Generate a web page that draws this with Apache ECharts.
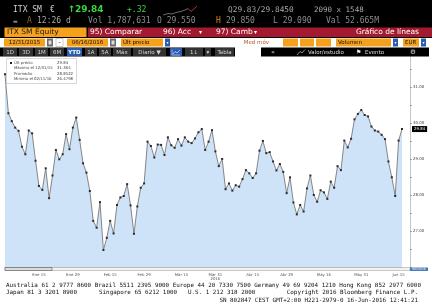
<!DOCTYPE html>
<html><head><meta charset="utf-8">
<script src="https://cdn.jsdelivr.net/npm/echarts@6/dist/echarts.min.js"></script>
<style>html,body{margin:0;padding:0;background:#fff}#c{width:432px;height:306px}</style>
</head><body><div id="c"></div>
<script>
// ---- data ----
const dates = [
"12/31/15",
"01/04/16","01/05/16","01/06/16","01/07/16","01/08/16",
"01/11/16","01/12/16","01/13/16","01/14/16","01/15/16",
"01/18/16","01/19/16","01/20/16","01/21/16","01/22/16",
"01/25/16","01/26/16","01/27/16","01/28/16","01/29/16",
"02/01/16","02/02/16","02/03/16","02/04/16","02/05/16",
"02/08/16","02/09/16","02/10/16","02/11/16","02/12/16",
"02/15/16","02/16/16","02/17/16","02/18/16","02/19/16",
"02/22/16","02/23/16","02/24/16","02/25/16","02/26/16",
"02/29/16","03/01/16","03/02/16","03/03/16","03/04/16",
"03/07/16","03/08/16","03/09/16","03/10/16","03/11/16",
"03/14/16","03/15/16","03/16/16","03/17/16","03/18/16",
"03/21/16","03/22/16","03/23/16","03/24/16","03/29/16","03/30/16","03/31/16",
"04/01/16","04/04/16","04/05/16","04/06/16","04/07/16","04/08/16",
"04/11/16","04/12/16","04/13/16","04/14/16","04/15/16",
"04/18/16","04/19/16","04/20/16","04/21/16","04/22/16",
"04/25/16","04/26/16","04/27/16","04/28/16","04/29/16",
"05/02/16","05/03/16","05/04/16","05/05/16","05/06/16",
"05/09/16","05/10/16","05/11/16","05/12/16","05/13/16",
"05/16/16","05/17/16","05/18/16","05/19/16","05/20/16",
"05/23/16","05/24/16","05/25/16","05/26/16","05/27/16",
"05/30/16","05/31/16","06/01/16","06/02/16","06/03/16",
"06/06/16","06/07/16","06/08/16","06/09/16","06/10/16",
"06/13/16","06/14/16","06/15/16","06/16/16"
];
const prices = [
31.364,30.28,30.06,29.88,29.79,29.35,29.14,29.80,29.72,28.96,
28.26,28.15,28.75,27.92,28.55,29.26,29.00,29.14,29.70,29.28,
29.88,30.16,29.54,28.89,28.63,28.12,27.29,27.10,27.81,26.4798,
26.82,27.29,26.94,27.73,27.94,27.98,28.31,27.72,26.93,27.69,
28.21,28.33,29.49,29.37,29.05,29.41,29.40,29.12,29.61,29.39,
29.32,29.56,29.38,29.61,29.49,29.45,29.58,29.75,29.84,29.26,
29.49,29.81,29.22,28.81,29.01,28.17,28.33,28.13,28.28,28.24,
28.45,28.70,28.61,28.48,28.61,29.24,29.51,29.17,29.20,28.94,
28.69,28.87,28.65,28.06,28.50,27.80,27.47,27.73,27.55,28.19,
28.55,28.01,27.82,28.14,28.08,27.90,28.38,28.21,28.81,28.70,
29.52,29.33,29.57,30.11,30.26,30.37,30.23,30.19,29.91,29.80,
29.77,29.68,29.56,28.94,28.50,27.98,29.52,29.84
];
const tickLabels = {
"01/15/16":"Ene 15","01/29/16":"Ene 29","02/15/16":"Feb 15","02/29/16":"Feb 29",
"03/15/16":"Mar 15","03/31/16":"Mar 31","04/15/16":"Abr 15","04/29/16":"Abr 29",
"05/16/16":"May 16","05/31/16":"May 31","06/15/16":"Jun 15"
};
const yearLabels = {"03/31/16":"2016"};
const legendRows = [
["Últ precio","29.84"],
["Máximo el 12/31/15","31.364"],
["Promedio","28.8522"],
["Mínimo el 02/11/16","26.4798"]
];
const yMin = 26, yMax = 32, yStep = 0.5;

// ---- helpers for terminal chrome ----
const ORANGE = '#f6a11c', RED = '#a3192f', BLUE = '#2a5cb0', BTN = '#333';
function T(x, y, text, o) {
  o = o || {};
  const a = o.a || 'left';
  return {type:'text', x:x, y:y, z:101, silent:true,
    style:{text:text, fill:o.c || '#b8b8b8',
      font:(o.w || 'normal') + ' ' + (o.s || 8) + 'px ' + (o.f || 'DejaVu Sans Mono'),
      align:a, textAlign:a, verticalAlign:'middle', textVerticalAlign:'middle'}};
}
function R(x, y, w, h, fill, stroke) {
  return {type:'rect', z:100, silent:true, shape:{x:x, y:y, width:w, height:h},
    style:{fill:fill, stroke:stroke || null, lineWidth:stroke ? 0.5 : 0}};
}
function P(points, color, w) {
  return {type:'polyline', z:101, silent:true, shape:{points:points},
    style:{stroke:color, lineWidth:w || 0.8, fill:null}};
}
const S = 'DejaVu Sans';
const g = [];
// rows 1-3 black
g.push(R(0, 0, 432, 38, '#000'));
// row 1
g.push(T(13, 10, 'ITX SM', {c:'#d0d0d0', s:8}));
g.push(T(50, 10, '€', {c:'#d0d0d0', s:8}));
g.push(T(68, 10, '↑', {c:'#3fd23f', s:9, f:S, w:'bold'}));
g.push(T(75, 10, '29.84', {c:'#3fd23f', s:9, f:S, w:'bold'}));
g.push(T(127, 10, '+.32', {c:'#3fd23f', s:8}));
g.push(P([[163,15],[168,13.5],[172,14],[176,12.5],[181,11.5],[185,10],[188,8.5]], '#9a9a9a', 0.7));
g.push(P([[188,8.5],[191,11.5],[197,6]], '#e0443a', 0.8));
g.push(T(228, 10, 'Q29.83/29.8450', {c:'#a8a8a8', s:7.8}));
g.push(T(314, 10, '2090 x 1548', {c:'#a8a8a8', s:7.5}));
// row 2
g.push(T(13, 22, '▬', {c:'#888', s:5, f:S}));
g.push(T(27, 21, 'A', {c:'#8a6a2a', s:8}));
g.push(T(37, 21, '12:26 d', {c:'#a8a8a8', s:8}));
g.push(T(88, 21, 'Vol 1,787,631', {c:'#8c8c8c', s:8}));
g.push(T(157, 21, 'O 29.550', {c:'#8c8c8c', s:8}));
g.push(T(216, 21, 'H', {c:'#d7862a', s:8}));
g.push(T(226, 21, '29.850', {c:'#8c8c8c', s:8}));
g.push(T(273, 21, 'L 29.090', {c:'#8c8c8c', s:8}));
g.push(T(326, 21, 'Val 52.665M', {c:'#8c8c8c', s:8}));
// row 3
g.push(R(4.5, 27.5, 82, 9.5, ORANGE));
g.push(T(7, 32.3, 'ITX SM Equity', {c:'#1a1a1a', s:7.5, f:S}));
g.push(R(88, 27.5, 344, 9.5, RED));
g.push(T(90, 32.3, '95) Comparar', {c:'#fff', s:7.5, f:S}));
g.push(T(163, 32.3, '96) Acc', {c:'#fff', s:7.5, f:S}));
g.push(T(199, 32.3, '▾', {c:'#fff', s:6, f:S}));
g.push(T(216, 32.3, '97) Camb', {c:'#fff', s:7.5, f:S}));
g.push(T(254, 32.3, '▾', {c:'#fff', s:6, f:S}));
g.push(T(419, 32.3, 'Gráfico de líneas', {c:'#fff', s:7.5, f:S, a:'right'}));
// row 4
const r4y = 38.5, r4h = 8, r4c = 42.6;
g.push(R(4, r4y, 41, r4h, ORANGE));
g.push(T(24.5, r4c, '12/31/2015', {c:'#111', s:5.5, f:S, a:'center'}));
g.push(R(47, r4y, 6, r4h, '#6a6a6a'));
g.push(R(48.5, r4y + 2, 3, 4, '#ddd'));
g.push(R(56, r4y, 7, r4h, '#fff', '#999'));
g.push(T(59.5, r4c, '-', {c:'#111', s:6, f:S, a:'center'}));
g.push(R(67, r4y, 41, r4h, ORANGE));
g.push(T(87.5, r4c, '06/16/2016', {c:'#111', s:5.5, f:S, a:'center'}));
g.push(R(110, r4y, 6, r4h, '#6a6a6a'));
g.push(R(111.5, r4y + 2, 3, 4, '#ddd'));
g.push(R(121, r4y, 42, r4h, ORANGE));
g.push(T(123, r4c, 'Últ precio', {c:'#111', s:5.5, f:S}));
g.push(R(165, r4y, 5, r4h, BLUE));
g.push(T(167.5, r4c, '▾', {c:'#fff', s:4, f:S, a:'center'}));
g.push(T(269, r4c, 'Med móv', {c:'#b4561c', s:5.5, f:S, a:'right'}));
g.push(R(283, r4y, 15, r4h, ORANGE));
g.push(R(300, r4y, 14, r4h, ORANGE));
g.push(R(316, r4y, 15, r4h, ORANGE));
g.push(R(336, r4y, 55, r4h, ORANGE));
g.push(T(338, r4c, 'Volumen', {c:'#111', s:5.5, f:S}));
g.push(R(393, r4y, 5, r4h, BLUE));
g.push(T(395.5, r4c, '▾', {c:'#fff', s:4, f:S, a:'center'}));
g.push(R(403, r4y, 16, r4h, ORANGE));
g.push(T(405, r4c, 'EUR', {c:'#111', s:5.5, f:S}));
g.push(R(421, r4y, 5, r4h, BLUE));
g.push(T(423.5, r4c, '▾', {c:'#fff', s:4, f:S, a:'center'}));
// row 5
const r5y = 47.5, r5h = 9, r5c = 52.2;
g.push(R(0, r5y, 235, r5h, '#000'));
[[3,14,'1D'],[19,14,'3D'],[35,13,'1M'],[50,14,'6M'],[85,12,'1A'],[99,12,'5A'],[113,18,'Máx'],[133,33,'Diario ▼'],[185,18,'1↓'],[205,6,'▾'],[215,19,'Tabla']]
  .forEach(b => { g.push(R(b[0], r5y + 0.5, b[1], r5h - 1, BTN)); g.push(T(b[0] + b[1] / 2, r5c, b[2], {c:'#d8d8d8', s:5.5, f:S, a:'center'})); });
g.push(R(67, r5y + 0.5, 15, r5h - 1, BLUE));
g.push(T(74.5, r5c, 'YTD', {c:'#fff', s:5.5, f:S, a:'center', w:'bold'}));
g.push(R(170, r5y + 0.5, 12, r5h - 1, BLUE));
g.push(P([[172,55],[172,49.5]], '#fff', 0.5));
g.push(P([[172,55],[180,55]], '#fff', 0.5));
g.push(P([[173,54],[175,51.5],[177,53],[180,50]], '#fff', 0.6));
g.push(R(261, r5y, 168, r5h, '#000'));
g.push(T(273, r5c, '«', {c:'#ddd', s:6.5, f:S, a:'center'}));
g.push(P([[297,55],[300,51.5],[302,53],[305,49.5]], '#ddd', 0.6));
g.push(T(308, r5c, 'Valor/estudio', {c:'#ddd', s:5.5, f:S}));
g.push(T(356, r5c, '⚑', {c:'#fff', s:6, f:S}));
g.push(T(365, r5c, 'Evento', {c:'#ddd', s:5.5, f:S}));
g.push(T(413, r5c, '⚙', {c:'#ddd', s:6.5, f:S, a:'center'}));
// legend box
g.push(R(6.5, 58.5, 70, 25, '#fff', '#b0b0b0'));
legendRows.forEach((r, i) => {
  const y = 63 + i * 5.3;
  if (i === 0) g.push({type:'rect', z:101, silent:true, shape:{x:10, y:y - 1, width:2, height:2}, style:{fill:'#222'}});
  g.push(T(14, y, r[0], {c:'#444', s:3.9, f:S}));
  g.push(T(57, y, r[1], {c:'#444', s:3.9, f:S}));
});
// x-axis scroller bar and current-date box
g.push({type:'rect', z:3, silent:true, shape:{x:5, y:267.5, width:405, height:3}, style:{fill:'#f2f2f2', stroke:'#9a9a9a', lineWidth:0.5}});
g.push({type:'rect', z:3, silent:true, shape:{x:5, y:267.5, width:47, height:3}, style:{fill:'#dcdcdc', stroke:'#555', lineWidth:0.6}});
g.push(R(410, 267.5, 18, 3.5, '#4a78b8'));
g.push(T(419, 269.3, dates[dates.length - 1], {c:'#fff', s:3, f:S, a:'center'}));
// footer
const FF = 'DejaVu Sans Mono', FS = 5.9;
g.push(T(6, 285, 'Australia 61 2 9777 8600 Brazil 5511 2395 9000 Europe 44 20 7330 7500 Germany 49 69 9204 1210 Hong Kong 852 2977 6000', {c:'#111', s:FS, f:FF}));
g.push(T(6, 292.5, 'Japan 81 3 3201 8900', {c:'#111', s:FS, f:FF}));
g.push(T(99, 292.5, 'Singapore 65 6212 1000', {c:'#111', s:FS, f:FF}));
g.push(T(188, 292.5, 'U.S. 1 212 318 2000', {c:'#111', s:FS, f:FF}));
g.push(T(418, 292.5, 'Copyright 2016 Bloomberg Finance L.P.', {c:'#111', s:FS, f:FF, a:'right'}));
g.push(T(418, 300, 'SN 802847 CEST GMT+2:00 H221-2979-0 16-Jun-2016 12:41:21', {c:'#111', s:FS, f:FF, a:'right'}));

const isTick = (i, v) => tickLabels.hasOwnProperty(v);
const chart = echarts.init(document.getElementById('c'), null, {renderer:'canvas'});
chart.setOption({
  animation:false,
  backgroundColor:'#fff',
  grid:{left:5, right:30, top:51.3, bottom:38.7, containLabel:false},
  xAxis:{
    type:'category', data:dates, boundaryGap:false,
    axisLine:{lineStyle:{color:'#8a8a8a', width:0.6}},
    axisTick:{show:true, interval:isTick, length:3, inside:true, lineStyle:{color:'#777', width:0.6}},
    axisLabel:{interval:isTick, margin:5, fontSize:3.9, fontFamily:S, color:'#555', lineHeight:4.6,
      formatter:v => (tickLabels[v] || '') + (yearLabels[v] ? '\n' + yearLabels[v] : '')},
    splitLine:{show:false}
  },
  yAxis:{
    type:'value', position:'right', offset:8, min:yMin, max:yMax, interval:yStep,
    axisLine:{show:true, lineStyle:{color:'#a0a0a0', width:0.6}},
    axisTick:{show:true, length:2, lineStyle:{color:'#777', width:0.6}},
    axisLabel:{margin:3, fontSize:3.9, fontFamily:S, color:'#444',
      formatter:v => (v > yMin && Math.abs(v - Math.round(v)) < 1e-9 ? v.toFixed(2) : '')},
    splitLine:{show:false}
  },
  series:[{
    type:'line', data:prices, symbol:'rect', symbolSize:2, showAllSymbol:true,
    itemStyle:{color:'#2a2a2a'},
    lineStyle:{color:'#6a6a6a', width:0.8},
    areaStyle:{color:'#cfe3f8', opacity:1},
    markLine:{
      silent:true, symbol:'none', animation:false,
      lineStyle:{color:'rgba(0,0,0,0)', width:0.1, type:'solid'},
      data:[{yAxis:prices[prices.length - 1]}],
      label:{show:true, position:'end', distance:10, formatter:p => Number(p.value).toFixed(2),
        backgroundColor:'#000', color:'#fff', fontSize:3.9, fontFamily:S, padding:[1, 2], opacity:1}
    },
    z:2
  }],
  graphic:{elements:g}
});
</script>
</body></html>
